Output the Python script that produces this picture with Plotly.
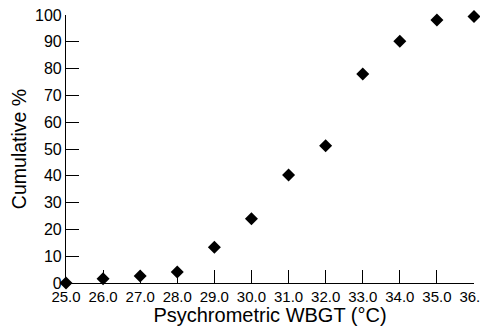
import plotly.graph_objects as go

wbgt = [25.0, 26.0, 27.0, 28.0, 29.0, 30.0, 31.0, 32.0, 33.0, 34.0, 35.0, 36.0]
cumulative = [0.0, 1.6, 2.6, 4.1, 13.3, 24.0, 40.3, 51.2, 78.0, 90.2, 98.1, 99.4]
x_ticks = [25, 26, 27, 28, 29, 30, 31, 32, 33, 34, 35, 36]
x_tick_labels = ["25.0", "26.0", "27.0", "28.0", "29.0", "30.0", "31.0", "32.0", "33.0", "34.0", "35.0", "36.0"]
y_ticks = [0, 10, 20, 30, 40, 50, 60, 70, 80, 90, 100]

fig = go.Figure()
fig.add_trace(go.Scatter(
    x=wbgt, y=cumulative, mode="markers",
    marker=dict(symbol="diamond", size=10, color="black"),
    cliponaxis=False, showlegend=False,
))

font = "Liberation Sans, Arial, Helvetica, sans-serif"
fig.update_layout(
    width=480, height=318,
    margin=dict(l=58, r=14, t=7, b=43),
    paper_bgcolor="white", plot_bgcolor="white",
    font=dict(family=font, color="black"),
    xaxis=dict(
        range=[25, 36], tickvals=x_ticks, ticktext=x_tick_labels,
        ticks="inside", ticklen=13, tickwidth=1, tickcolor="black",
        showline=True, linecolor="black", linewidth=1.2,
        showgrid=False, zeroline=False, automargin=False,
        ticklabeloverflow="allow",
        tickfont=dict(size=15, family=font),
        title=dict(text="Psychrometric WBGT (°C)", font=dict(size=20, family=font), standoff=5),
    ),
    yaxis=dict(
        range=[0, 100], tickvals=y_ticks,
        ticks="inside", ticklen=13, tickwidth=1, tickcolor="black",
        showline=True, linecolor="black", linewidth=1.2,
        showgrid=False, zeroline=False, automargin=False,
        ticklabeloverflow="allow",
        tickfont=dict(size=16, family=font),
        title=dict(text="Cumulative %", font=dict(size=19.5, family=font), standoff=4),
    ),
)

fig.write_html("out.html")
